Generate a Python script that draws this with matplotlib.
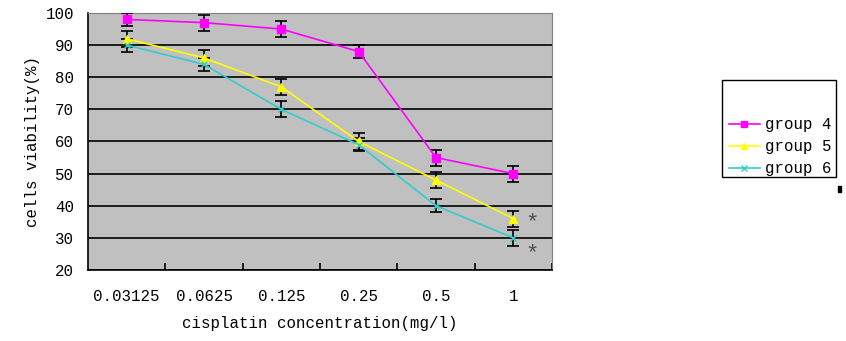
import numpy as np
import matplotlib
matplotlib.use("Agg")
import matplotlib.pyplot as plt
from matplotlib.patches import Rectangle

conc = ["0.03125", "0.0625", "0.125", "0.25", "0.5", "1"]
group4 = [98, 97, 95, 88, 55, 50]
group5 = [92, 86, 77, 60, 48, 36]
group6 = [90, 84, 70, 59, 40, 30]
err4 = [2.0, 2.5, 2.5, 2.0, 2.5, 2.5]
err5 = [2.5, 2.5, 2.5, 2.5, 2.5, 2.5]
err6 = [2.0, 2.0, 2.5, 2.0, 2.0, 2.5]

plt.rcParams['font.family'] = ['Liberation Mono', 'DejaVu Sans Mono']
fs = 11.3

fig = plt.figure(figsize=(8.46, 3.41), dpi=100)
ax = fig.add_axes([88/846, 71/341, 464/846, 257/341])
ax.set_facecolor("#c0c0c0")

x = np.arange(len(conc))
series = [
    ("group 4", group4, err4, "#ff00ff", "s", 6),
    ("group 5", group5, err5, "#ffff00", "^", 6),
    ("group 6", group6, err6, "#33cccc", "x", 5),
]
handles = []
for name, vals, err, col, mk, ms in series:
    ax.errorbar(x, vals, yerr=err, fmt="none", ecolor="black",
                elinewidth=1.2, capsize=4, capthick=1.2, zorder=3)
    h, = ax.plot(x, vals, color=col, marker=mk, markersize=ms, lw=1.2,
                 markeredgecolor=col, label=name, zorder=4)
    handles.append(h)

# significance marks
ax.text(x[-1] + 0.15, group5[-1] - 1.2, "*", fontsize=16, color="#505050",
        ha="left", va="center")
ax.text(x[-1] + 0.15, group6[-1] - 5.0, "*", fontsize=16, color="#505050",
        ha="left", va="center")

ax.set_xlim(-0.5, 5.5)
ax.set_ylim(20, 100)
ax.set_yticks(np.arange(20, 101, 10))
ax.yaxis.grid(True, color="black", lw=1.2)
ax.set_axisbelow(True)
ax.tick_params(axis="y", length=0, labelsize=fs, pad=10)
ax.set_xticks(x)
ax.set_xticklabels(conc)
ax.tick_params(axis="x", which="major", length=0, labelsize=fs, pad=14)
ax.set_xticks(np.arange(0.5, 5.6, 1), minor=True)
ax.tick_params(axis="x", which="minor", direction="in", length=5, width=1.2)
for s in ["top", "right"]:
    ax.spines[s].set_color("#808080")
for s in ["left", "bottom"]:
    ax.spines[s].set_linewidth(1.2)

ax.set_xlabel("cisplatin concentration(mg/l)", fontsize=fs, labelpad=8)
ax.set_ylabel("cells viability(%)", fontsize=fs, labelpad=4)

fig.patches.append(Rectangle((722/846, (341-177)/341), 114/846, 97/341,
                             transform=fig.transFigure, fill=False,
                             edgecolor="black", lw=1))
fig.legend(handles=handles, loc="lower left",
           bbox_to_anchor=(727/846, (341-178)/341), frameon=False,
           fontsize=fs, handlelength=2.0, labelspacing=0.45,
           borderpad=0.1, borderaxespad=0.0, handletextpad=0.3,
           markerscale=0.8)
fig.patches.append(Rectangle((838/846, (341-192)/341), 3/846, 6/341,
                             transform=fig.transFigure, color="black"))

fig.savefig("out.png", dpi=100)
